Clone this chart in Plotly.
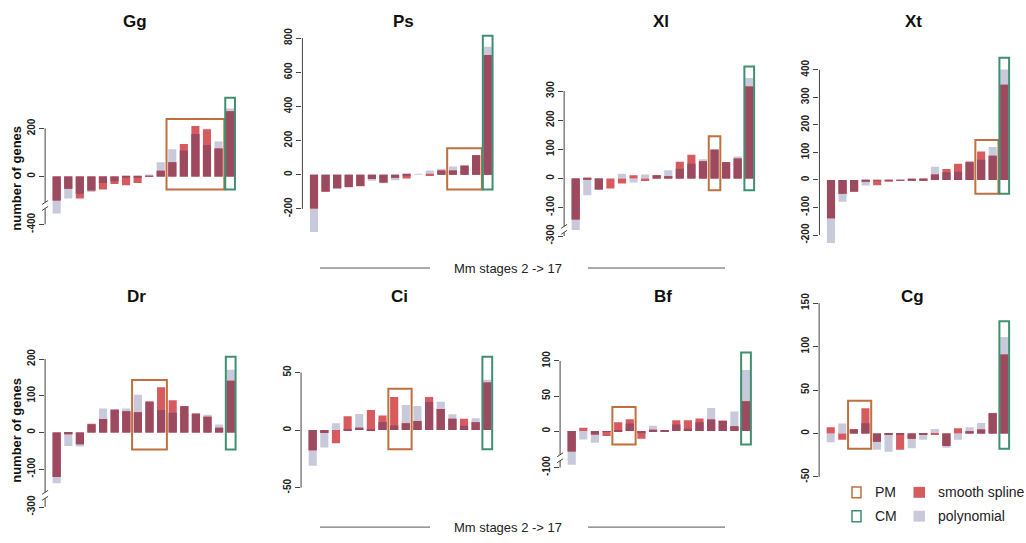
import plotly.graph_objects as go

W, H = 1026, 543
FONT = "Liberation Sans, Arial, Helvetica, sans-serif"

# ---------------- data ----------------
stages = list(range(2, 18))          # Mm stages 2 -> 17
species = ["Gg", "Ps", "Xl", "Xt", "Dr", "Ci", "Bf", "Cg"]

spline_gg = [-100, -51, -92, -59, -55, -32, -37, -28, 1, 24, 59, 135, 210, 196, 116, 272]
poly_gg = [-155, -92, -73, -65, -28, -20, -3, -5, 8, 59, 113, 108, 177, 131, 145, 283]

spline_ps = [-198, -100, -80, -74, -68, -25, -45, -18, -22, 0, -8, 25, 25, 54, 116, 701]
poly_ps = [-335, -98, -82, -72, -66, -35, -50, -33, -2, 3, 25, 35, 48, 52, 113, 750]

spline_xl = [-141, -3, -39, -35, -18, 11, -9, 12, 7, 57, 81, 59, 98, 56, 68, 316]
poly_xl = [-177, -58, -37, 0, 16, -14, 13, 10, 28, 33, 50, 66, 101, 55, 75, 345]

spline_xt = [-139, -50, -43, -6, -19, -4, -3, 4, 5, 20, 40, 59, 67, 103, 88, 346]
poly_xt = [-229, -79, -42, -20, -2, -1, -1, 3, 4, 48, 28, 30, 64, 73, 120, 401]

spline_dr = [-121, -5, -32, 24, 37, 62, 58, 55, 85, 123, 88, 72, 52, 43, 13, 141]
poly_dr = [-138, -37, -38, 22, 65, 63, 65, 103, 83, 61, 54, 71, 51, 48, 22, 171]

spline_ci = [-17.5, -2.5, -11.5, 12, 2, 17.5, 12.6, 28.7, 6, 8, 28.7, 18.4, 9.8, 9.8, 6.9, 41.4]
poly_ci = [-31, -15, 6, 0.5, 14, 0.5, 7, 4, 21.8, 21, 24.4, 24.7, 13.8, 3.7, 10.3, 43.7]

spline_bf = [-29, 4.7, -5, -7, 12.7, 17, -11, 2, 1.5, 15.6, 15.6, 18, 16.5, 15, 7, 42.5]
poly_bf = [-48, -12, -16.5, -1, 1, 11, -3, 7.5, 0.5, 9.4, 3.3, 12.7, 33, 14.5, 28, 87]

spline_cg = [7.2, -7.2, 5.3, 29, -9.5, -1, -18.7, -6, -1.5, -1, -14.5, 6, 2.7, 4.6, 23.2, 91]
poly_cg = [-10, 11.4, 4.5, 11.8, -18.7, -21, -0.5, -17, -7.2, 5.3, -16.4, -7.2, 7.2, 12.2, 24, 111]

spline = {"Gg": spline_gg, "Ps": spline_ps, "Xl": spline_xl, "Xt": spline_xt,
          "Dr": spline_dr, "Ci": spline_ci, "Bf": spline_bf, "Cg": spline_cg}
poly = {"Gg": poly_gg, "Ps": poly_ps, "Xl": poly_xl, "Xt": poly_xt,
        "Dr": poly_dr, "Ci": poly_ci, "Bf": poly_bf, "Cg": poly_cg}

# y tick positions (as drawn, axis breaks compress the lowest tick) and labels
tick_vals = {
    "Gg": [-200, 0, 200],
    "Ps": [-200, 0, 200, 400, 600, 800],
    "Xl": [-198, -100, 0, 100, 200, 300],
    "Xt": [-200, -100, 0, 100, 200, 300, 400],
    "Dr": [-203, -100, 0, 100, 200],
    "Ci": [-50, 0, 50],
    "Bf": [-52, 0, 50, 100],
    "Cg": [-50, 0, 50, 100, 150],
}
tick_text = {
    "Gg": ["-400", "0", "200"],
    "Ps": ["-200", "0", "200", "400", "600", "800"],
    "Xl": ["-300", "-100", "0", "100", "200", "300"],
    "Xt": ["-200", "-100", "0", "100", "200", "300", "400"],
    "Dr": ["-300", "-100", "0", "100", "200"],
    "Ci": ["-50", "0", "50"],
    "Bf": ["-100", "0", "50", "100"],
    "Cg": ["-50", "0", "50", "100", "150"],
}
axis_breaks = {"Gg": -121, "Xl": -175, "Dr": -171, "Bf": -38}

# PM / CM highlighted stages and box extents
pm_stages = {"Gg": (12, 16), "Ps": (14, 16), "Xl": (14, 14), "Xt": (15, 16),
             "Dr": (9, 11), "Ci": (9, 10), "Bf": (6, 7), "Cg": (4, 5)}
cm_stage = 17
pm_box_y = {"Gg": (-55, 239), "Ps": (-87, 155), "Xl": (-41, 145), "Xt": (-50, 145),
            "Dr": (-46, 143), "Ci": (-16.7, 35.9), "Bf": (-19, 34.4), "Cg": (-17.5, 37.7)}
cm_box_y = {"Gg": (-55, 328), "Ps": (-87, 814), "Xl": (-41, 384), "Xt": (-50, 444),
            "Dr": (-46, 206), "Ci": (-16.7, 63.8), "Bf": (-19, 112), "Cg": (-17.5, 129)}

# ---------------- layout geometry (pixels) ----------------
# centre of first bar, bar spacing, pixel of y=0, pixels per unit
geom = {
    "Gg": (56.7, 11.56, 176.7, 0.2417),
    "Ps": (314.0, 11.58, 175.0, 0.172),
    "Xl": (575.7, 11.57, 178.7, 0.2933),
    "Xt": (831.0, 11.55, 180.3, 0.2775),
    "Dr": (56.7, 11.60, 434.7, 0.37),
    "Ci": (312.7, 11.64, 432.3, 1.16),
    "Bf": (571.7, 11.62, 433.3, 0.7067),
    "Cg": (830.7, 11.57, 435.7, 0.8757),
}
rows = [(28, 252), (286, 515)]
title_pos = {"Gg": (135, 21), "Ps": (403, 21), "Xl": (661, 21), "Xt": (913, 21),
             "Dr": (136, 298), "Ci": (399, 298), "Bf": (663, 298), "Cg": (912, 298)}

C_SPLINE = "#D65A5E"
C_POLY = "#C8CADB"
C_BOTH = "#9B4A60"
C_PM = "#C0703F"
C_CM = "#3E9070"
C_AXIS = "#444444"


def px(x):
    return x / W


def py(y):
    return 1 - y / H


fig = go.Figure()
shapes = []
annotations = []
layout = {}

for i, sp in enumerate(species):
    n = i + 1
    sfx = "" if n == 1 else str(n)
    xr, yr = "x" + sfx, "y" + sfx
    first, spc, y0, k = geom[sp]
    top, bot = rows[0] if i < 4 else rows[1]
    x_left = first - spc          # pixel of x = 1
    x_right = first + 16 * spc    # pixel of x = 18
    ymax = (y0 - top) / k
    ymin = -(bot - y0) / k

    s_vals = spline[sp]
    p_vals = poly[sp]
    both = [(min(abs(a), abs(b)) * (1 if a > 0 else -1)) if a * b > 0 else 0
            for a, b in zip(s_vals, p_vals)]

    for vals, col, name in [(p_vals, C_POLY, "polynomial"),
                            (s_vals, C_SPLINE, "smooth spline"),
                            (both, C_BOTH, "both")]:
        fig.add_trace(go.Bar(x=stages, y=vals, width=0.7, marker_color=col,
                             marker_line_width=0, name=name, showlegend=False,
                             xaxis=xr, yaxis=yr))

    layout["xaxis" + sfx] = dict(domain=[px(x_left), px(x_right)], range=[1, 18],
                                 visible=False, anchor=yr, fixedrange=True)
    layout["yaxis" + sfx] = dict(
        domain=[py(bot), py(top)], range=[ymin, ymax], anchor=xr,
        showgrid=False, zeroline=False, showline=False,
        ticks="outside", ticklen=5, tickwidth=1, tickcolor=C_AXIS,
        tickvals=tick_vals[sp], ticktext=tick_text[sp], tickangle=-90,
        tickfont=dict(family=FONT, size=10, color="#222222", weight="bold"),
        fixedrange=True)

    # R-style axis line from lowest to highest tick (with optional break)
    tv = tick_vals[sp]
    xa = px(x_left)
    if sp in axis_breaks:
        b = axis_breaks[sp]
        bpx = y0 - b * k
        g = 3.0
        shapes.append(dict(type="line", xref="paper", yref=yr, x0=xa, x1=xa,
                           y0=b + g / k, y1=max(tv), line=dict(color=C_AXIS, width=1)))
        shapes.append(dict(type="line", xref="paper", yref=yr, x0=xa, x1=xa,
                           y0=min(tv), y1=b - g / k, line=dict(color=C_AXIS, width=1)))
        for d in (-g, g):
            shapes.append(dict(type="line", xref="paper", yref="paper",
                               x0=px(x_left - 3), y0=py(bpx + d + 2),
                               x1=px(x_left + 3), y1=py(bpx + d - 2),
                               line=dict(color=C_AXIS, width=1)))
    else:
        shapes.append(dict(type="line", xref="paper", yref=yr, x0=xa, x1=xa,
                           y0=min(tv), y1=max(tv), line=dict(color=C_AXIS, width=1)))

    # PM and CM boxes
    a, bb = pm_stages[sp]
    shapes.append(dict(type="rect", xref=xr, yref=yr, x0=a - 0.5, x1=bb + 0.5,
                       y0=pm_box_y[sp][0], y1=pm_box_y[sp][1],
                       line=dict(color=C_PM, width=2), layer="above"))
    shapes.append(dict(type="rect", xref=xr, yref=yr, x0=cm_stage - 0.42, x1=cm_stage + 0.42,
                       y0=cm_box_y[sp][0], y1=cm_box_y[sp][1],
                       line=dict(color=C_CM, width=2), layer="above"))

    tx, ty = title_pos[sp]
    annotations.append(dict(text="<b>%s</b>" % sp, x=px(tx), y=py(ty), xref="paper",
                            yref="paper", showarrow=False, xanchor="center",
                            yanchor="middle", font=dict(family=FONT, size=17, color="#111111")))

# y-axis titles
for yc in (179, 433):
    annotations.append(dict(text="<b>number of genes</b>", x=px(17), y=py(yc),
                            xref="paper", yref="paper", showarrow=False, textangle=-90,
                            xanchor="center", yanchor="middle",
                            font=dict(family=FONT, size=13, color="#111111")))

# "Mm stages 2 -> 17" with side lines
for yc in (269, 530):
    annotations.append(dict(text="Mm stages 2 -> 17", x=px(508), y=py(yc), xref="paper",
                            yref="paper", showarrow=False, xanchor="center",
                            yanchor="middle", font=dict(family=FONT, size=13, color="#222222")))
    for xa0, xa1 in ((320, 430), (588, 725)):
        shapes.append(dict(type="line", xref="paper", yref="paper", x0=px(xa0), x1=px(xa1),
                           y0=py(yc), y1=py(yc), line=dict(color="#555555", width=1)))

# legend (2 x 2)
legend_items = [
    ("PM", 852, 495, dict(line=dict(color=C_PM, width=1.5), fillcolor="rgba(0,0,0,0)")),
    ("CM", 852, 519, dict(line=dict(color=C_CM, width=1.5), fillcolor="rgba(0,0,0,0)")),
    ("smooth spline", 913.5, 495, dict(line=dict(width=0), fillcolor=C_SPLINE)),
    ("polynomial", 913.5, 519, dict(line=dict(width=0), fillcolor=C_POLY)),
]
for label, lx, ly, sty in legend_items:
    w = 9 if label in ("PM", "CM") else 11.5
    shp = dict(type="rect", xref="paper", yref="paper", x0=px(lx), x1=px(lx + w),
               y0=py(ly + 5.5), y1=py(ly - 5.5))
    shp.update(sty)
    shapes.append(shp)
    tx = lx + (21 if label in ("PM", "CM") else 22)
    annotations.append(dict(text=label, x=px(tx), y=py(ly), xref="paper", yref="paper",
                            showarrow=False, xanchor="left", yanchor="middle",
                            font=dict(family=FONT, size=14, color="#222222")))

fig.update_layout(
    width=W, height=H, margin=dict(l=0, r=0, t=0, b=0),
    paper_bgcolor="white", plot_bgcolor="white",
    barmode="overlay", showlegend=False,
    shapes=shapes, annotations=annotations,
    font=dict(family=FONT),
    **layout,
)

fig.write_html("out.html")
